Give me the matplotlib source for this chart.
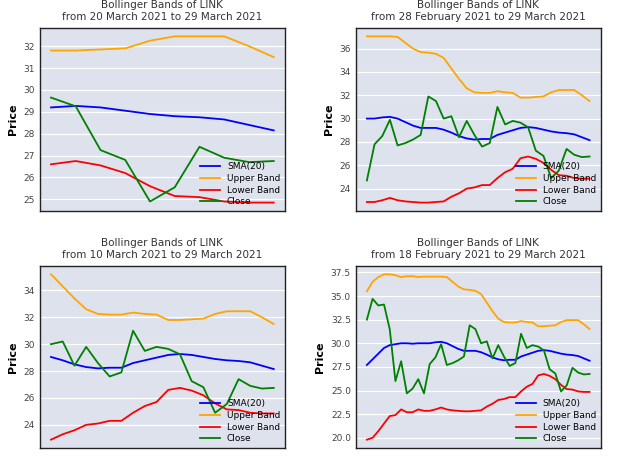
import matplotlib
matplotlib.use("Agg")
from matplotlib import pyplot as plt
import numpy as np

# 40 daily values, 18 February 2021 .. 29 March 2021
close = [32.5, 34.7, 34.0, 34.1, 31.5, 26.0, 28.1, 24.7, 25.2, 26.2,
         24.7, 27.8, 28.5, 29.9, 27.7, 27.9, 28.2, 28.6, 31.9, 31.5,
         30.0, 30.2, 28.4, 29.8, 28.6, 27.6, 27.9, 31.0, 29.5, 29.8,
         29.65, 29.25, 27.25, 26.8, 24.9, 25.55, 27.4, 26.9, 26.7, 26.75]
sma = [27.7, 28.3, 28.9, 29.5, 29.8, 29.9, 30.0, 30.0, 29.95, 30.0,
       30.0, 30.0, 30.1, 30.15, 30.0, 29.7, 29.4, 29.2, 29.2, 29.2,
       29.05, 28.8, 28.5, 28.3, 28.2, 28.25, 28.25, 28.6, 28.8, 29.0,
       29.2, 29.27, 29.2, 29.05, 28.9, 28.8, 28.75, 28.65, 28.4, 28.15]
upper = [35.5, 36.5, 37.0, 37.3, 37.3, 37.2, 37.0, 37.1, 37.1, 37.0,
         37.05, 37.05, 37.05, 37.05, 37.0, 36.5, 36.0, 35.7, 35.65, 35.55,
         35.2, 34.3, 33.4, 32.6, 32.25, 32.2, 32.2, 32.35, 32.25, 32.2,
         31.8, 31.8, 31.85, 31.9, 32.25, 32.45, 32.45, 32.45, 32.0, 31.5]
lower = [19.8, 20.0, 20.7, 21.5, 22.3, 22.4, 23.0, 22.7, 22.7, 23.0,
         22.85, 22.85, 23.0, 23.2, 23.0, 22.9, 22.85, 22.8, 22.8, 22.85,
         22.9, 23.3, 23.6, 24.0, 24.1, 24.3, 24.3, 24.9, 25.4, 25.7,
         26.6, 26.75, 26.55, 26.2, 25.6, 25.15, 25.1, 24.9, 24.85, 24.85]

# (start index, label, axes rect)
panels = [(30, "20 March 2021", [0.063, 0.556, 0.387, 0.385]),
          (10, "28 February 2021", [0.562, 0.556, 0.387, 0.385]),
          (20, "10 March 2021", [0.063, 0.057, 0.387, 0.383]),
          (0, "18 February 2021", [0.562, 0.057, 0.387, 0.383])]

fig = plt.figure(figsize=(6.33, 4.75), dpi=100)
for start, label, rect in panels:
    ax = fig.add_axes(rect)
    ax.set_facecolor('#dde2ed')
    x = np.arange(len(close) - start)
    ax.plot(x, sma[start:], color='blue', lw=1.3, label='SMA(20)')
    ax.plot(x, upper[start:], color='orange', lw=1.3, label='Upper Band')
    ax.plot(x, lower[start:], color='red', lw=1.3, label='Lower Band')
    ax.plot(x, close[start:], color='green', lw=1.3, label='Close')
    ax.set_title("Bollinger Bands of LINK\nfrom %s to 29 March 2021" % label,
                 fontsize=7.5, color='#333333')
    ax.set_ylabel('Price', fontsize=8, fontweight='bold')
    ax.set_xticks([])
    ax.tick_params(axis='y', labelsize=6.5, length=0, colors='#444444')
    ax.grid(axis='y', color='white', lw=0.9)
    ax.set_axisbelow(True)
    for s in ax.spines.values():
        s.set_color('#222222')
        s.set_linewidth(1.0)
    ax.legend(loc='lower right', fontsize=6.5, frameon=False,
              handlelength=2.2, labelspacing=0.3, borderaxespad=0.1)

fig.savefig('out.png', dpi=100)
